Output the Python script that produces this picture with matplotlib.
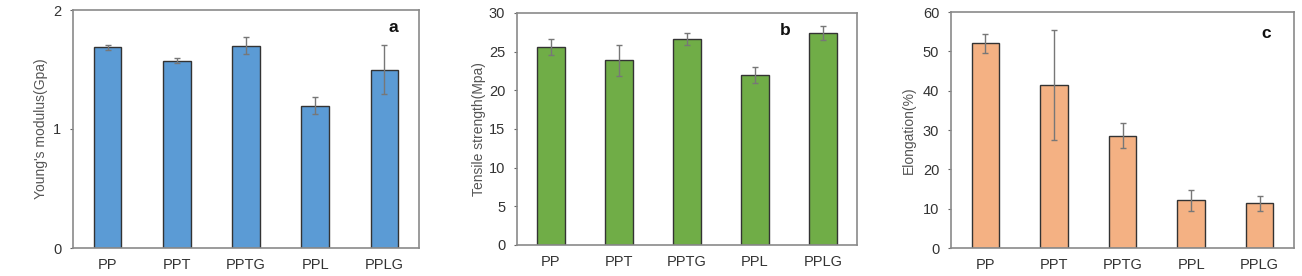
import numpy as np
import matplotlib.pyplot as plt

plt.rcParams['font.family'] = ['Liberation Sans', 'DejaVu Sans']

samples = ['PP', 'PPT', 'PPTG', 'PPL', 'PPLG']

modulus = [1.685, 1.575, 1.70, 1.195, 1.50]
modulus_err = [0.02, 0.02, 0.07, 0.07, 0.21]

strength = [25.6, 23.9, 26.6, 22.0, 27.4]
strength_err = [1.0, 2.0, 0.8, 1.0, 0.9]

elongation = [52.0, 41.4, 28.6, 12.1, 11.4]
elongation_err = [2.5, 13.9, 3.1, 2.6, 1.9]

W, H = 1302, 276
fig = plt.figure(figsize=(W/100, H/100), dpi=100)


def panel(box, vals, errs, color, ylim, yticks, ylabel, letter, letter_xy, ylabel_x):
    l, r, t, b = box
    ax = fig.add_axes([l/W, 1-b/H, (r-l)/W, (b-t)/H])
    x = np.arange(len(samples))
    ax.bar(x, vals, width=0.4, color=color, edgecolor='#333333', linewidth=1.0,
           yerr=errs, error_kw=dict(ecolor='#777777', elinewidth=1.0,
                                    capsize=2.5, capthick=1.0))
    ax.set_xlim(-0.5, 4.5)
    ax.set_ylim(*ylim)
    ax.set_yticks(yticks)
    ax.set_xticks(x)
    ax.set_xticklabels(samples)
    ax.tick_params(axis='x', length=0, pad=7.5, labelsize=10.5, colors='#333333')
    ax.tick_params(axis='y', length=2, width=0.8, direction='out', pad=6.5,
                   labelsize=10.5, colors='#333333', color='#666666')
    for s in ax.spines.values():
        s.set_color('#8a8a8a')
        s.set_linewidth(1.2)
    ax.set_ylabel(ylabel, fontsize=10, color='#555555')
    ax.yaxis.set_label_coords(ylabel_x, 0.5)
    ax.text(letter_xy[0], letter_xy[1], letter, transform=ax.transAxes,
            fontsize=12.5, fontweight='bold', ha='center', va='center',
            color='#111111')
    return ax


panel((73, 419, 10, 248), modulus, modulus_err, '#5b9bd5', (0, 2), [0, 1, 2],
      "Young's modulus(Gpa)", 'a', (0.925, 0.925), -0.072)
panel((517, 857, 13, 245), strength, strength_err, '#70ad47', (0, 30),
      range(0, 31, 5), 'Tensile strength(Mpa)', 'b', (0.79, 0.925), -0.091)
panel((951, 1294, 12, 248), elongation, elongation_err, '#f4b183', (0, 60),
      range(0, 61, 10), 'Elongation(%)', 'c', (0.92, 0.91), -0.102)

fig.savefig('out.png', dpi=100)
